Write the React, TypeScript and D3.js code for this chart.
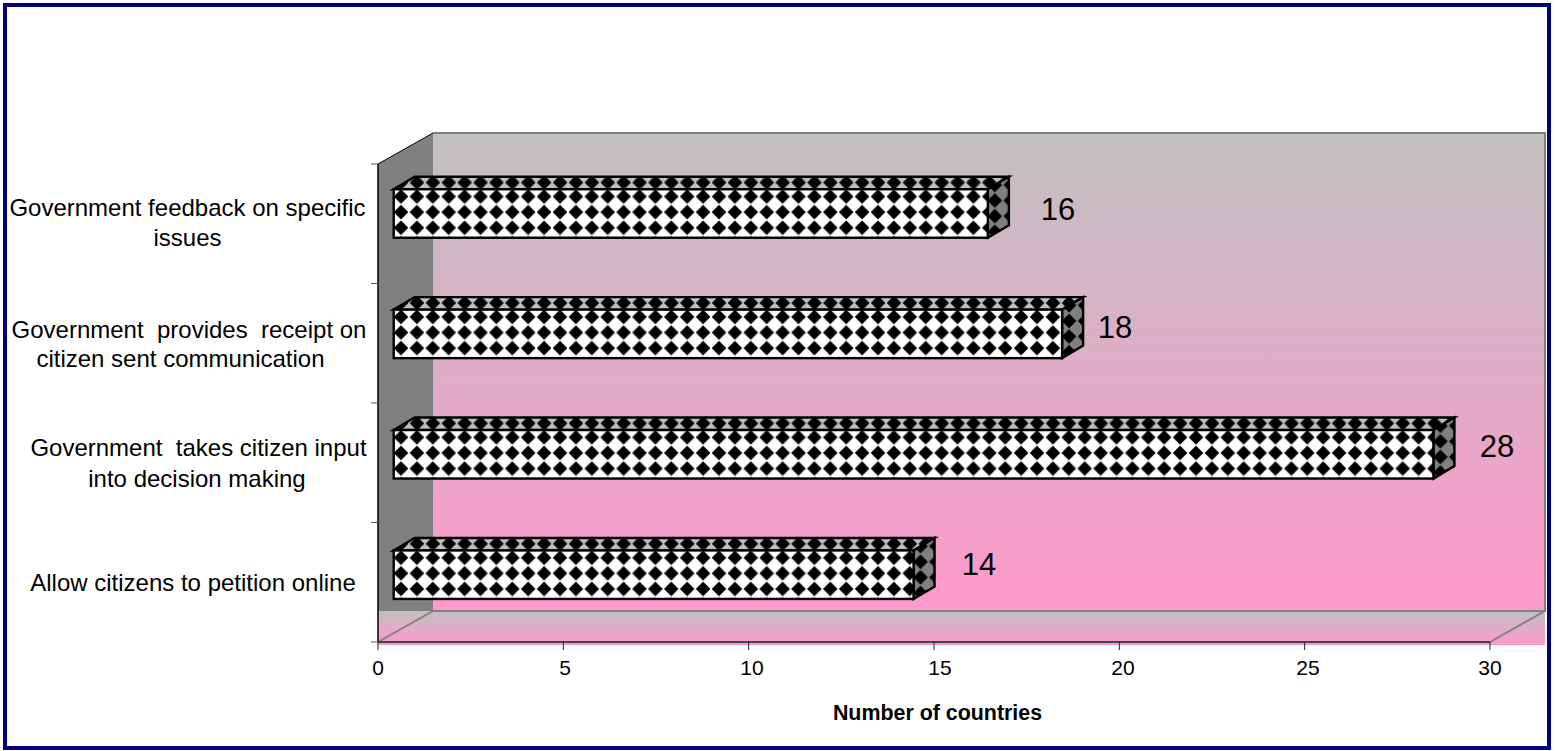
import React from "react";
import * as d3 from "d3";

const categories = [
  "Allow citizens to petition online",
  "Government takes citizen input into decision making",
  "Government provides receipt on citizen sent communication",
  "Government feedback on specific issues",
];
const values = [14, 28, 18, 16];
const labelLines = [
  ["Allow citizens to petition online"],
  ["Government  takes citizen input", "into decision making"],
  ["Government  provides  receipt on", "citizen sent communication"],
  ["Government feedback on specific", "issues"],
];
const labelCenters = [[193], [198.5, 197], [189, 180.5], [187.5, 187.5]];
const labelBaselines = [[591], [456, 487], [338, 367], [216, 246]];
const valueLabelX = [979, 1497, 1115, 1058];
const valueLabelY = [575, 457, 338, 220];
const xTicks = [0, 5, 10, 15, 20, 25, 30];
const xTickLabelX = [378, 565, 752, 940, 1123, 1308, 1490];
const axisTitle = "Number of countries";

const W = 1556, H = 751;
const X0 = 378, X1 = 1490, YB = 642, YT = 164;
const DX = 55, DY = 31;
const BDX = 21, BDY = 12.5, BAR_H = 48.5;
const FONT = "Liberation Sans, Arial, sans-serif";

const x = d3.scaleLinear().domain([0, 30]).range([X0, X1]);
const barLen = d3.scaleLinear().domain([0, 30]).range([0, 1114]);
const y = d3.scaleBand<number>().domain([0, 1, 2, 3]).range([634.9, 153.3]);

const poly = (pts: [number, number][]) => d3.line()(pts) + "Z";

function Diamonds({ id, bg, dx, dy }: { id: string; bg: string; dx: number; dy: number }) {
  return (
    <pattern id={id} patternUnits="userSpaceOnUse" width={15.9} height={15.6} x={dx} y={dy}>
      <rect width={16} height={16} fill={bg} />
      <path d="M8 0.6L15.3 7.8L8 15L0.7 7.8Z" fill="#000" filter="url(#soft)" />
    </pattern>
  );
}

export default function App() {
  return (
    <svg
      width={W}
      height={H}
      style={{ position: "absolute", left: 0, top: 0, background: "#fff" }}
      fontFamily={FONT}
    >
      <defs>
        <filter id="soft" x="-10%" y="-10%" width="120%" height="120%">
          <feGaussianBlur stdDeviation="0.6" />
        </filter>
        <linearGradient id="wall" x1="0" y1="0" x2="0" y2="1">
          <stop offset="0" stopColor="#c0c0c0" />
          <stop offset="1" stopColor="#ff99cc" />
        </linearGradient>
        <Diamonds id="front" bg="#fff" dx={393} dy={189.5} />
        <Diamonds id="top" bg="#c0c0c0" dx={409} dy={175.5} />
        <Diamonds id="side" bg="#808080" dx={987} dy={193.5} />
      </defs>

      <rect x={5} y={5} width={1544} height={743} fill="#fff" stroke="#000080" strokeWidth={4} />

      {/* walls */}
      <rect x={X0 + DX} y={YT - DY} width={X1 - X0} height={YB - YT} fill="url(#wall)" />
      <path
        d={poly([[X0, YT], [X0 + DX, YT - DY], [X0 + DX, YB - DY], [X0, YB - DY]])}
        fill="#808080"
      />
      <rect x={X0} y={YB - DY} width={X1 + DX - X0} height={34} fill="url(#wall)" />
      <path
        d={`M${X0 + DX} ${YT - DY}H${X1 + DX}V${YB - DY}H${X0 + DX}`}
        fill="none"
        stroke="#808080"
        strokeWidth={2}
      />
      <path d={`M${X0} ${YB}L${X0 + DX} ${YB - DY}`} stroke="#808080" strokeWidth={2} fill="none" />
      <path d={`M${X1} ${YB}L${X1 + DX} ${YB - DY}`} stroke="#808080" strokeWidth={2} fill="none" />

      {/* axes */}
      <path d={`M${X0} ${YT}V${YB}`} stroke="#000" strokeWidth={1.5} />
      <path d={`M${X0} ${YT}L${X0 + DX} ${YT - DY}`} stroke="#000" strokeWidth={1} />
      <path d={`M${X0} ${YB}H${X1}`} stroke="#444" strokeWidth={2} />
      {d3.range(5).map((i) => {
        const yy = YB - (i * (YB - YT)) / 4;
        return <path key={i} d={`M${X0 - 7} ${yy}H${X0}`} stroke="#555" strokeWidth={1} />;
      })}
      {xTicks.map((t, i) => (
        <g key={t}>
          <path d={`M${x(t)} ${YB}V${YB + 8}`} stroke="#222" strokeWidth={1} />
          <text x={xTickLabelX[i]} y={674.5} fontSize={21} textAnchor="middle" fill="#000">
            {t}
          </text>
        </g>
      ))}
      <text x={937.5} y={719.5} fontSize={21.4} fontWeight="bold" textAnchor="middle" fill="#000">
        {axisTitle}
      </text>

      {/* bars: drawn around a reference bar so each keeps the same pattern phase */}
      {categories.map((c, i) => {
        const x0 = 393.7;
        const len = barLen(values[i]);
        const x1 = x0 + len;
        const yTop = (y(i) as number) + y.bandwidth() / 2 - BAR_H / 2;
        return (
          <g key={c} stroke="#000" strokeWidth={2.4} strokeLinejoin="miter">
            <g transform={`translate(0 ${yTop - 190})`}>
              <path
                d={poly([[x0, 190], [x0 + BDX, 190 - BDY], [x1 + BDX, 190 - BDY], [x1, 190]])}
                fill="url(#top)"
              />
              <g transform={`translate(${x1 - 988} 0)`}>
                <path
                  d={poly([[988, 190], [988 + BDX, 190 - BDY], [988 + BDX, 190 + BAR_H - BDY], [988, 190 + BAR_H]])}
                  fill="url(#side)"
                />
              </g>
              <rect x={x0} y={190} width={len} height={BAR_H} fill="url(#front)" />
            </g>
          </g>
        );
      })}

      {/* value labels */}
      {values.map((v, i) => (
        <text
          key={i}
          x={valueLabelX[i]}
          y={valueLabelY[i]}
          fontSize={31}
          textAnchor="middle"
          fill="#000"
        >
          {v}
        </text>
      ))}

      {/* category labels */}
      {labelLines.map((lines, i) =>
        lines.map((ln, j) => (
          <text
            key={`${i}-${j}`}
            x={labelCenters[i][j]}
            y={labelBaselines[i][j]}
            fontSize={24}
            textAnchor="middle"
            fill="#000"
            style={{ whiteSpace: "pre" }}
          >
            {ln}
          </text>
        ))
      )}
    </svg>
  );
}
